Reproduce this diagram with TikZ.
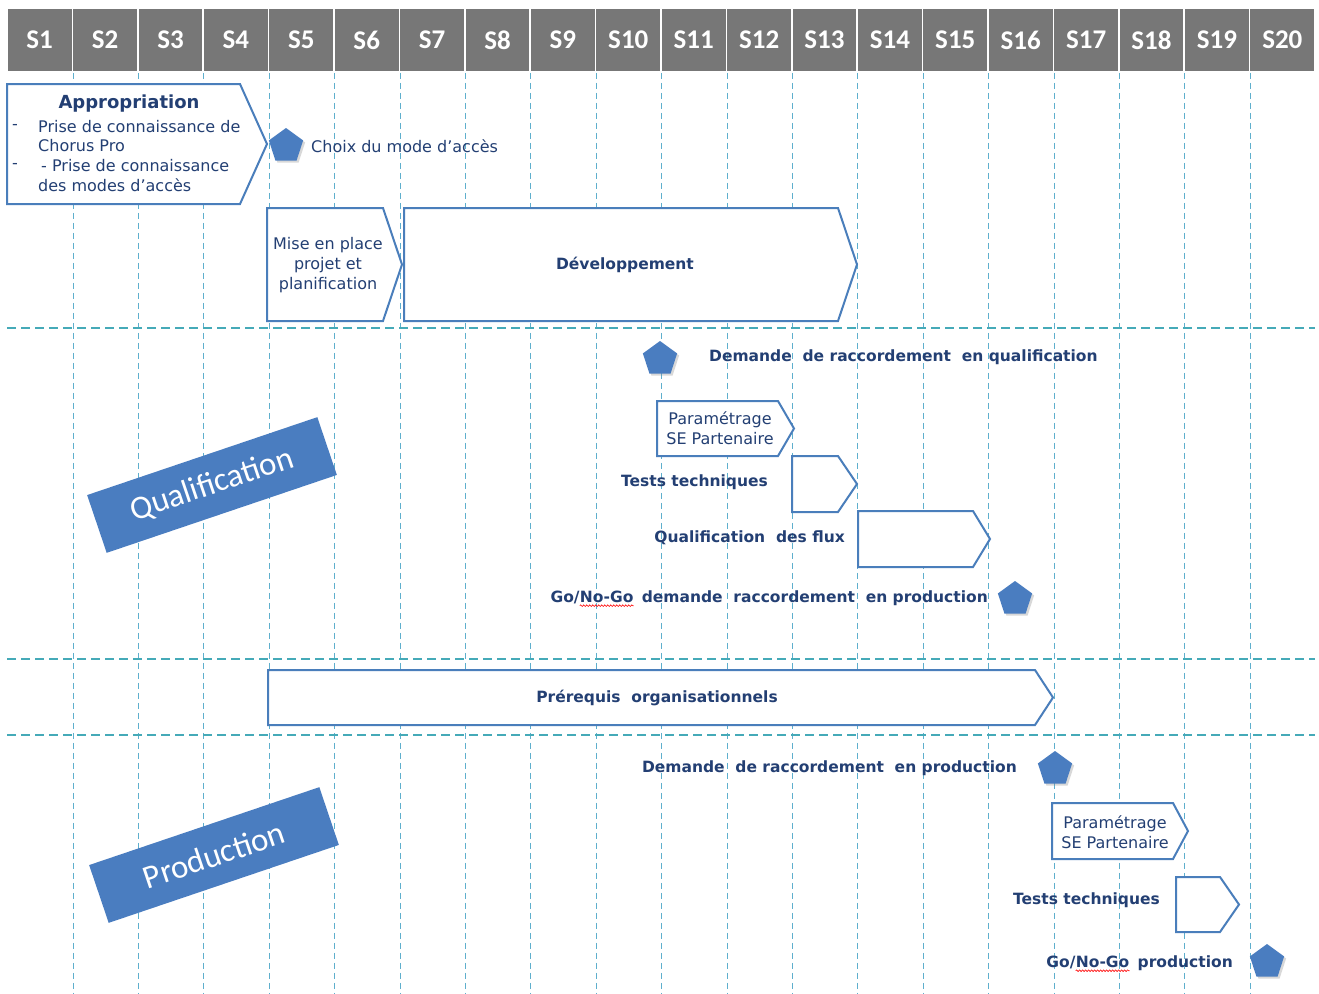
\documentclass[tikz,border=0pt]{standalone}
\usepackage{fontspec}
\setmainfont{DejaVu Sans}
\newfontfamily\calibri{Carlito}
\usetikzlibrary{positioning, shapes.geometric, shadows, decorations.pathmorphing}

\definecolor{entete}{HTML}{777777}
\definecolor{bleutrait}{HTML}{4A7EBB}
\definecolor{bleujalon}{HTML}{4A7DC0}
\definecolor{bleutexte}{HTML}{233F73}
\definecolor{grille}{HTML}{5EAFCD}
\definecolor{separation}{HTML}{45AAB8}

% boite en forme de fleche : gauche, haut, coin, pointe, bas
\newcommand{\etape}[5]{%
  \draw[etapebox] (#1,#2) -- (#3,#2) -- (#4,{(#2+#5)/2}) -- (#3,#5) -- (#1,#5) -- cycle;}

\begin{document}
\begin{tikzpicture}[x=1pt, y=-1pt,
    etapebox/.style={draw=bleutrait, line width=2pt, fill=white},
    jalon/.style={regular polygon, regular polygon sides=5, fill=bleujalon, minimum size=36pt, inner sep=0pt,
      drop shadow={shadow xshift=2pt, shadow yshift=-2pt, opacity=0.3}},
    texte/.style={text=bleutexte, font=\fontsize{16}{20}\selectfont, inner sep=0pt},
    gras/.style={text=bleutexte, font=\fontsize{15.5}{18}\selectfont\bfseries, inner sep=0pt},
    semaine/.style={fill=entete, draw=white, line width=1.5pt, minimum width=65.4pt, minimum height=64pt,
      text=white, font=\calibri\bfseries\fontsize{27}{30}\selectfont},
    bandeau/.style={fill=bleujalon, text=white, minimum width=243pt, minimum height=61pt,
      font=\calibri\fontsize{33}{36}\selectfont, rotate=18.7},
    souligne/.style={red, line width=0.6pt, decorate, decoration={snake, segment length=3pt, amplitude=0.8pt}}]

  \fill[white] (0,0) rectangle (1319,993);
  \useasboundingbox (0,0) rectangle (1319,993);

  % semaines
  \foreach \i in {1,...,20}
    \node[semaine] (s\i) at ({7+65.4*(\i-0.5)},40) {S\i};

  % grille
  \foreach \i in {1,...,19}
    \draw[grille, line width=1pt, dash pattern=on 6pt off 4pt] (s\i.south east) -- ++(0,921);
  \foreach \y in {328,659,735}
    \draw[separation, line width=2pt, dash pattern=on 9pt off 5pt] (7,\y) -- (1315,\y);

  % phase de cadrage
  \etape{7}{84}{240}{267}{204}
  \node[text=bleutexte, font=\fontsize{18}{20}\selectfont\bfseries, inner sep=0pt] (appro) at (129,104) {Appropriation};
  \node[texte, anchor=west] (tiret1) at (12,127) {-};
  \node[texte, anchor=west] (prise1) at (38,127) {Prise de connaissance de};
  \node[texte, anchor=west] (chorus) at (38,146) {Chorus Pro};
  \node[texte, anchor=west] (tiret2) at (12,166) {-};
  \node[texte, anchor=west] (prise2) at (41,166) {- Prise de connaissance};
  \node[texte, anchor=west] (modes) at (38,185) {des modes d’accès};

  \node[jalon] (jchoix) at (286,146) {};
  \node[texte, anchor=west] (choix) at (311,146) {Choix du mode d’accès};

  \etape{267}{208}{383}{402}{321}
  \node[texte, align=center] (mise) at (328,265) {Mise en place\\projet et\\planification};
  \etape{404}{208}{838}{857}{321}
  \node[gras] (dev) at (625,265) {Développement};

  % qualification
  \node[bandeau] (qualif) at (212,485) {Qualification};

  \node[jalon] (jqualif) at (660,359) {};
  \node[gras, anchor=west] (demqualif) at (709,357) {Demande\ \ de raccordement\ \ en qualification};

  \etape{657}{401}{778}{794}{456}
  \node[texte, align=center] (param1) at (720,428) {Paramétrage\\SE Partenaire};
  \etape{792}{456}{838}{857}{512}
  \node[gras, anchor=east] (tests1) at (768,482) {Tests techniques};
  \etape{858}{511}{973}{990}{567}
  \node[gras, anchor=east] (flux) at (845,538) {Qualification\ \ des flux};

  \node[jalon] (jgo1) at (1015,599) {};
  \node[gras, anchor=east] (gonogo1) at (988,598) {demande\ \ raccordement\ \ en production};
  \node[gras, anchor=base east] (nogo1) at ([xshift=-8pt]gonogo1.base west) {No-Go};
  \node[gras, anchor=base east] (go1) at (nogo1.base west) {Go/};
  \draw[souligne] ([yshift=-3pt]nogo1.south west) -- ([yshift=-3pt]nogo1.south east);

  % prerequis
  \etape{268}{670}{1035}{1053}{725}
  \node[gras] (prereq) at (657,698) {Prérequis\ \ organisationnels};

  % production
  \node[bandeau] (prod) at (214,855) {Production};

  \node[jalon] (jprod) at (1055,769) {};
  \node[gras, anchor=east] (demprod) at (1017,768) {Demande\ \ de raccordement\ \ en production};

  \etape{1052}{803}{1173}{1188}{859}
  \node[texte, align=center] (param2) at (1115,832) {Paramétrage\\SE Partenaire};
  \etape{1176}{877}{1220}{1239}{932}
  \node[gras, anchor=east] (tests2) at (1160,900) {Tests techniques};

  \node[jalon] (jgo2) at (1267,962) {};
  \node[gras, anchor=east] (prodtxt) at (1233,963) {production};
  \node[gras, anchor=base east] (nogo2) at ([xshift=-8pt]prodtxt.base west) {No-Go};
  \node[gras, anchor=base east] (go2) at (nogo2.base west) {Go/};
  \draw[souligne] ([yshift=-3pt]nogo2.south west) -- ([yshift=-3pt]nogo2.south east);
\end{tikzpicture}
\end{document}
